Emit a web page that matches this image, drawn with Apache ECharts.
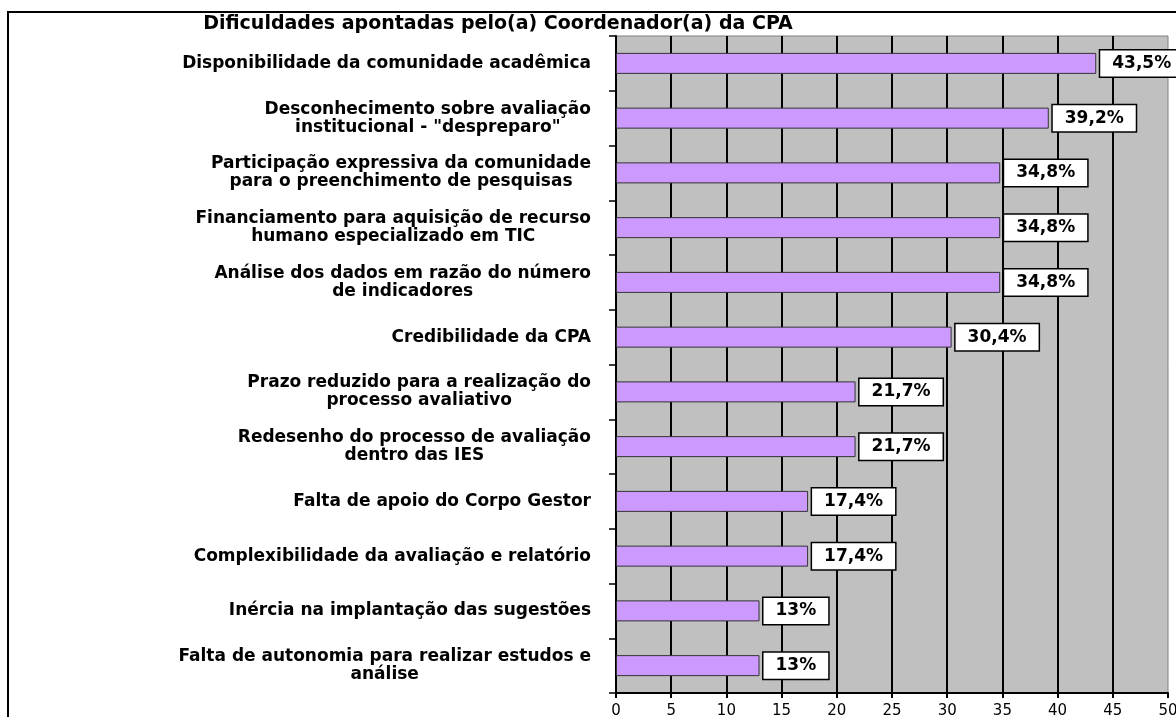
<!DOCTYPE html>
<html>
<head>
<meta charset="utf-8">
<script src="https://cdn.jsdelivr.net/npm/echarts@6/dist/echarts.min.js"></script>
<style>
  html, body { margin: 0; padding: 0; background: #fff; }
  #chart { width: 1176px; height: 717px; }
</style>
</head>
<body>
<div id="chart"></div>
<script>
const categories = [
  "Disponibilidade da comunidade acadêmica",
  "Desconhecimento sobre avaliação\ninstitucional - \"despreparo\"",
  "Participação expressiva da comunidade\npara o preenchimento de pesquisas",
  "Financiamento para aquisição de recurso\nhumano especializado em TIC",
  "Análise dos dados em razão do número\nde indicadores",
  "Credibilidade da CPA",
  "Prazo reduzido para a realização do\nprocesso avaliativo",
  "Redesenho do processo de avaliação\ndentro das IES",
  "Falta de apoio do Corpo Gestor",
  "Complexibilidade da avaliação e relatório",
  "Inércia na implantação das sugestões",
  "Falta de autonomia para realizar estudos e\nanálise"
];
const percentages = [43.5, 39.2, 34.8, 34.8, 34.8, 30.4, 21.7, 21.7, 17.4, 17.4, 13, 13];

const font = "DejaVu Sans";
const chart = echarts.init(document.getElementById("chart"), null, { renderer: "canvas" });

chart.setOption({
  animation: false,
  backgroundColor: "#fff",
  title: {
    text: "Dificuldades apontadas pelo(a) Coordenador(a) da CPA",
    left: 498,
    top: 15,
    padding: 0,
    textAlign: "center",
    textStyle: { fontFamily: font, fontWeight: "bold", fontSize: 19, color: "#000" }
  },
  graphic: [
    {
      type: "rect",
      z: -1,
      shape: { x: 8, y: 12, width: 1300, height: 800 },
      style: { fill: "none", stroke: "#000", lineWidth: 2 }
    }
  ],
  grid: {
    left: 616,
    right: 8,
    top: 36,
    bottom: 24,
    outerBoundsMode: "none",
    containLabel: false,
    show: true,
    backgroundColor: "#c0c0c0",
    borderColor: "#808080",
    borderWidth: 1
  },
  xAxis: {
    type: "value",
    min: 0,
    max: 50,
    interval: 5,
    axisLine: { show: true, lineStyle: { color: "#000", width: 2 } },
    axisTick: { show: true, length: 5, lineStyle: { color: "#000", width: 2 } },
    axisLabel: { fontFamily: font, fontSize: 15, color: "#000", margin: 11 },
    splitLine: {
      show: true,
      showMinLine: false,
      showMaxLine: false,
      lineStyle: { color: "#000", width: 2 }
    }
  },
  yAxis: {
    type: "category",
    inverse: true,
    data: categories,
    axisLine: { show: true, lineStyle: { color: "#000", width: 2 } },
    axisTick: { show: true, length: 7, lineStyle: { color: "#000", width: 1.5 } },
    axisLabel: {
      margin: 25,
      align: "right",
      formatter: (v) => v.split("\n").map((s) => "{c|" + s + "}").join("\n"),
      rich: {
        c: { align: "center", fontFamily: font, fontWeight: "bold", fontSize: 17, lineHeight: 18, color: "#000" }
      }
    }
  },
  series: [
    {
      type: "bar",
      data: percentages,
      barWidth: 21,
      itemStyle: { color: "#cc99ff", borderColor: "#333", borderWidth: 1 },
      label: {
        show: true,
        position: "right",
        distance: 4,
        formatter: (p) => String(p.value).replace(".", ",") + "%",
        fontFamily: font,
        fontWeight: "bold",
        fontSize: 17,
        color: "#000",
        backgroundColor: "#fff",
        borderColor: "#000",
        borderWidth: 1.5,
        padding: [5, 12, 4, 12]
      }
    }
  ]
});
</script>
</body>
</html>
